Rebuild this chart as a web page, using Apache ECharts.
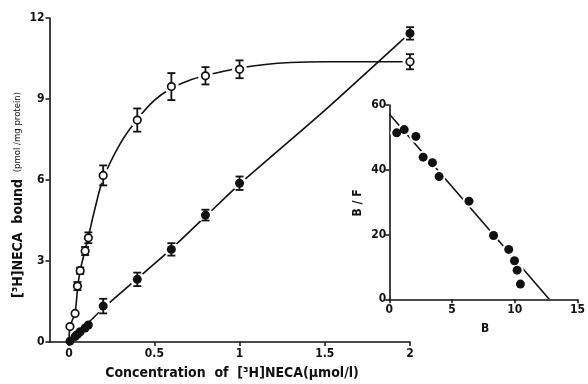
<!DOCTYPE html>
<html>
<head>
<meta charset="utf-8">
<script src="https://cdn.jsdelivr.net/npm/echarts@6/dist/echarts.min.js"></script>
<style>
  html, body { margin: 0; padding: 0; background: #fff; }
  #chart { width: 588px; height: 384px; }
</style>
</head>
<body>
<div id="chart"></div>
<script>
// Specific binding of [3H]NECA (open circles), mean ± error
const specX   = [0.005, 0.035, 0.049, 0.065, 0.094, 0.113, 0.2, 0.4, 0.6, 0.8, 1.0, 2.0];
const specY   = [0.57, 1.06, 2.07, 2.64, 3.37, 3.86, 6.17, 8.22, 9.46, 9.86, 10.1, 10.38];
const specErr = [0, 0, 0.15, 0.12, 0.15, 0.2, 0.37, 0.43, 0.5, 0.32, 0.33, 0.28];

// Nonspecific binding (filled circles)
const nonX   = [0.005, 0.035, 0.049, 0.065, 0.094, 0.113, 0.2, 0.4, 0.6, 0.8, 1.0, 2.0];
const nonY   = [0.03, 0.2, 0.28, 0.38, 0.52, 0.63, 1.33, 2.32, 3.43, 4.70, 5.88, 11.43];
const nonErr = [0, 0, 0, 0, 0, 0, 0.27, 0.25, 0.23, 0.2, 0.25, 0.23];

// Fitted curves drawn through the data
const specCurveX = [0, 0.005, 0.035, 0.05, 0.065, 0.094, 0.113, 0.15, 0.2, 0.3, 0.4, 0.5, 0.6, 0.7, 0.8, 0.9, 1.0, 1.15, 1.3, 1.5, 2.0];
const specCurveY = [0, 0.55, 1.1, 2.0, 2.65, 3.4, 3.9, 4.9, 6.05, 7.35, 8.25, 8.95, 9.4, 9.68, 9.87, 10.02, 10.15, 10.28, 10.35, 10.38, 10.38];
const nonLineX = [0, 0.2, 0.4, 0.6, 0.8, 1.0, 1.5, 2.0];
const nonLineY = [0, 1.25, 2.35, 3.45, 4.65, 5.85, 8.58, 11.45];

// Scatchard plot (inset): B vs B/F
const scatB  = [0.59, 1.19, 2.12, 2.7, 3.44, 3.97, 6.35, 8.31, 9.52, 9.98, 10.19, 10.45];
const scatBF = [51.4, 52.4, 50.3, 43.9, 42.2, 37.9, 30.3, 19.7, 15.4, 11.9, 9.0, 4.7];
const scatLineB  = [0, 12.75];
const scatLineBF = [57.2, 0];

// Tick labels
const mainXTicks  = [0, 0.5, 1, 1.5, 2];
const mainYTicks  = [0, 3, 6, 9, 12];
const insetXTicks = [0, 5, 10, 15];
const insetYTicks = [0, 20, 40, 60];

const INK = '#111';
const FONT = '"DejaVu Sans Condensed", "Liberation Sans Narrow", sans-serif';
const NARROW = '"Liberation Sans Narrow", "DejaVu Sans Condensed", sans-serif';

const zip = (a, b) => a.map((v, i) => [v, b[i]]);
const zip3 = (a, b, c) => a.map((v, i) => [v, b[i], c[i]]);

const axisCommon = {
  type: 'value',
  axisLine: { show: true, onZero: false, lineStyle: { color: INK, width: 1.6 } },
  axisTick: { show: true, length: 4, lineStyle: { color: INK, width: 1.5 } },
  axisLabel: { color: INK, fontFamily: FONT, fontWeight: 'bold', fontSize: 12, margin: 5 },
  splitLine: { show: false }
};

function errorBars(params, api) {
  const x = api.value(0), y = api.value(1), e = api.value(2);
  if (!e) return;
  const top = api.coord([x, y + e]);
  const bot = api.coord([x, y - e]);
  const w = 4;
  const st = { stroke: INK, lineWidth: 1.8 };
  return {
    type: 'group',
    children: [
      { type: 'line', shape: { x1: top[0], y1: top[1], x2: bot[0], y2: bot[1] }, style: st },
      { type: 'line', shape: { x1: top[0] - w, y1: top[1], x2: top[0] + w, y2: top[1] }, style: st },
      { type: 'line', shape: { x1: bot[0] - w, y1: bot[1], x2: bot[0] + w, y2: bot[1] }, style: st }
    ]
  };
}

// White rings behind the larger markers leave small gaps in the lines
const haloMain = zip(specX, specY).concat(zip(nonX, nonY)).filter(p => p[0] >= 0.15);

const chart = echarts.init(document.getElementById('chart'), null, { renderer: 'canvas' });

chart.setOption({
  animation: false,
  backgroundColor: '#fff',
  textStyle: { fontFamily: FONT },
  grid: [
    { left: 49.5, top: 18, width: 360.5, height: 324 },
    { left: 389.3, top: 105, width: 189, height: 194.3 }
  ],
  xAxis: [
    Object.assign({}, axisCommon, {
      gridIndex: 0, min: -0.115, max: 2,
      axisTick: Object.assign({}, axisCommon.axisTick, { customValues: mainXTicks }),
      axisLabel: Object.assign({}, axisCommon.axisLabel, { customValues: mainXTicks, margin: 6 })
    }),
    Object.assign({}, axisCommon, {
      gridIndex: 1, min: 0, max: 15,
      axisTick: Object.assign({}, axisCommon.axisTick, { customValues: insetXTicks }),
      axisLabel: Object.assign({}, axisCommon.axisLabel, { customValues: insetXTicks, margin: 5 })
    })
  ],
  yAxis: [
    Object.assign({}, axisCommon, {
      gridIndex: 0, min: 0, max: 12,
      axisTick: Object.assign({}, axisCommon.axisTick, { customValues: mainYTicks }),
      axisLabel: Object.assign({}, axisCommon.axisLabel, { customValues: mainYTicks })
    }),
    Object.assign({}, axisCommon, {
      gridIndex: 1, min: 0, max: 60,
      axisTick: Object.assign({}, axisCommon.axisTick, { customValues: insetYTicks }),
      axisLabel: Object.assign({}, axisCommon.axisLabel, { customValues: insetYTicks, margin: 3 })
    })
  ],
  series: [
    {
      type: 'line', xAxisIndex: 0, yAxisIndex: 0, z: 1,
      data: zip(specCurveX, specCurveY), smooth: 0.3, showSymbol: false,
      lineStyle: { color: INK, width: 1.6 }, silent: true
    },
    {
      type: 'line', xAxisIndex: 0, yAxisIndex: 0, z: 1,
      data: zip(nonLineX, nonLineY), smooth: 0.2, showSymbol: false,
      lineStyle: { color: INK, width: 1.6 }, silent: true
    },
    {
      type: 'scatter', xAxisIndex: 0, yAxisIndex: 0, z: 2,
      data: haloMain, symbol: 'circle', symbolSize: 15,
      itemStyle: { color: '#fff', opacity: 1 }, silent: true
    },
    {
      type: 'custom', xAxisIndex: 0, yAxisIndex: 0, z: 3,
      data: zip3(specX, specY, specErr), renderItem: errorBars, silent: true
    },
    {
      type: 'custom', xAxisIndex: 0, yAxisIndex: 0, z: 3,
      data: zip3(nonX, nonY, nonErr), renderItem: errorBars, silent: true
    },
    {
      type: 'scatter', xAxisIndex: 0, yAxisIndex: 0, z: 5,
      data: zip(nonX, nonY), symbol: 'circle', symbolSize: 9,
      itemStyle: { color: INK, opacity: 1 }, silent: true
    },
    {
      type: 'scatter', xAxisIndex: 0, yAxisIndex: 0, z: 6,
      data: zip(specX, specY), symbol: 'circle', symbolSize: 7.5,
      itemStyle: { color: '#fff', borderColor: INK, borderWidth: 1.7, opacity: 1 }, silent: true
    },
    {
      type: 'scatter', xAxisIndex: 0, yAxisIndex: 0, z: 6,
      data: [[0.70, 8.19, 'Specific'], [1.0, 3.74, 'Nonspecific']],
      symbol: 'none', silent: true,
      label: {
        show: true, position: 'inside', formatter: p => p.value[2],
        color: INK, fontFamily: FONT, fontSize: 12
      }
    },
    // Inset: Scatchard plot
    {
      type: 'line', xAxisIndex: 1, yAxisIndex: 1, z: 1,
      data: zip(scatLineB, scatLineBF), showSymbol: false,
      lineStyle: { color: INK, width: 1.6 }, silent: true
    },
    {
      type: 'scatter', xAxisIndex: 1, yAxisIndex: 1, z: 2,
      data: zip(scatB, scatBF), symbol: 'circle', symbolSize: 13,
      itemStyle: { color: '#fff', opacity: 1 }, silent: true
    },
    {
      type: 'scatter', xAxisIndex: 1, yAxisIndex: 1, z: 5,
      data: zip(scatB, scatBF), symbol: 'circle', symbolSize: 9,
      itemStyle: { color: INK, opacity: 1 }, silent: true
    }
  ],
  graphic: [
    {
      type: 'text', x: 18, y: 195, rotation: Math.PI / 2,
      style: {
        text: '{a|[³H]NECA  bound}  {b|(pmol /mg protein)}',
        align: 'center', verticalAlign: 'middle',
        rich: {
          a: { fontFamily: FONT, fontSize: 14, fill: INK, fontWeight: 'bold' },
          b: { fontFamily: FONT, fontSize: 9.5, fill: INK }
        }
      }
    },
    {
      type: 'text', x: 232, y: 373,
      style: {
        text: 'Concentration  of  [³H]NECA(µmol/l)',
        font: 'bold 14px ' + NARROW, fill: INK,
        align: 'center', verticalAlign: 'middle'
      }
    },
    {
      type: 'text', x: 358, y: 203, rotation: Math.PI / 2,
      style: {
        text: 'B / F', font: 'bold 12px ' + FONT, fill: INK,
        align: 'center', verticalAlign: 'middle'
      }
    },
    {
      type: 'text', x: 485, y: 329,
      style: {
        text: 'B', font: 'bold 12px ' + FONT, fill: INK,
        align: 'center', verticalAlign: 'middle'
      }
    }
  ]
});
</script>
</body>
</html>
